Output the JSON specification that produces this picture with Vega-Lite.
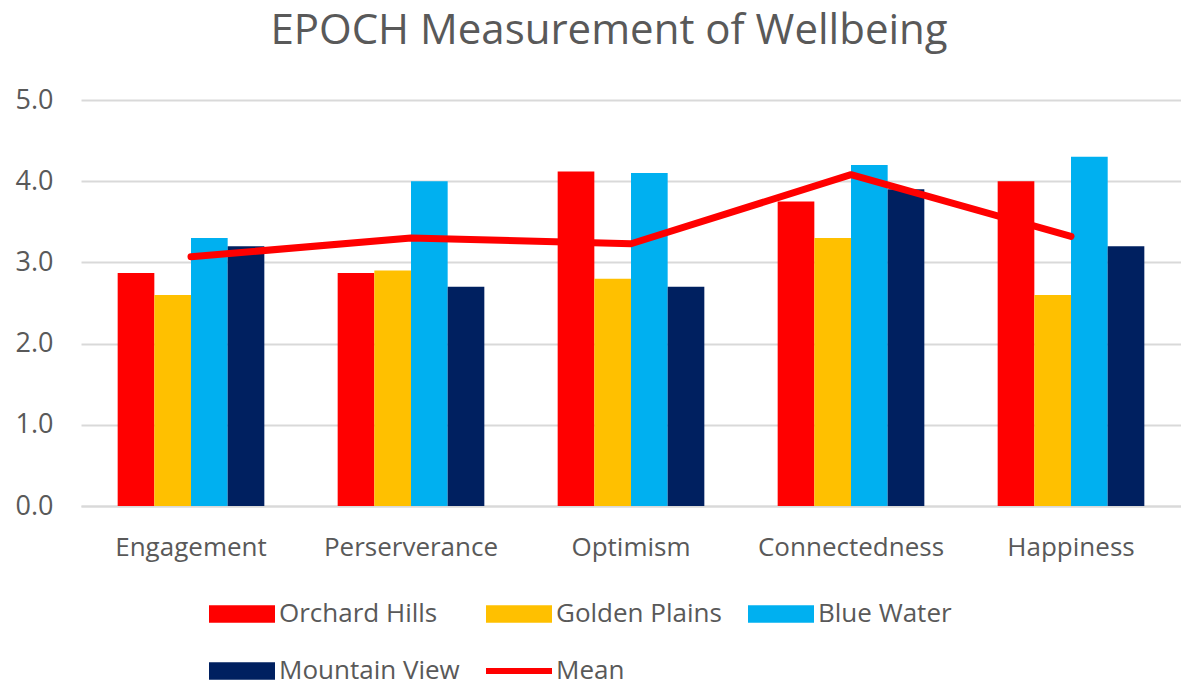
{
  "$schema": "https://vega.github.io/schema/vega-lite/v6.json",
  "width": 1100,
  "height": 406,
  "autosize": {"type": "none"},
  "padding": {"left": 81, "top": 100, "right": 0, "bottom": 180},
  "background": "white",
  "title": {
    "text": "EPOCH Measurement of Wellbeing",
    "font": "Open Sans",
    "fontSize": 42,
    "fontWeight": "normal",
    "color": "#595959",
    "anchor": "middle",
    "frame": "group",
    "dx": -22,
    "baseline": "alphabetic",
    "offset": 0
  },
  "config": {
    "view": {"stroke": null},
    "font": "Open Sans"
  },
  "datasets": {
    "bars": [
      {"category": "Engagement", "series": "Orchard Hills", "value": 2.87},
      {"category": "Engagement", "series": "Golden Plains", "value": 2.6},
      {"category": "Engagement", "series": "Blue Water", "value": 3.3},
      {"category": "Engagement", "series": "Mountain View", "value": 3.2},
      {"category": "Perserverance", "series": "Orchard Hills", "value": 2.87},
      {"category": "Perserverance", "series": "Golden Plains", "value": 2.9},
      {"category": "Perserverance", "series": "Blue Water", "value": 4.0},
      {"category": "Perserverance", "series": "Mountain View", "value": 2.7},
      {"category": "Optimism", "series": "Orchard Hills", "value": 4.12},
      {"category": "Optimism", "series": "Golden Plains", "value": 2.8},
      {"category": "Optimism", "series": "Blue Water", "value": 4.1},
      {"category": "Optimism", "series": "Mountain View", "value": 2.7},
      {"category": "Connectedness", "series": "Orchard Hills", "value": 3.75},
      {"category": "Connectedness", "series": "Golden Plains", "value": 3.3},
      {"category": "Connectedness", "series": "Blue Water", "value": 4.2},
      {"category": "Connectedness", "series": "Mountain View", "value": 3.9},
      {"category": "Happiness", "series": "Orchard Hills", "value": 4.0},
      {"category": "Happiness", "series": "Golden Plains", "value": 2.6},
      {"category": "Happiness", "series": "Blue Water", "value": 4.3},
      {"category": "Happiness", "series": "Mountain View", "value": 3.2}
    ],
    "mean": [
      {"category": "Engagement", "value": 3.07},
      {"category": "Perserverance", "value": 3.3},
      {"category": "Optimism", "value": 3.23},
      {"category": "Connectedness", "value": 4.08},
      {"category": "Happiness", "value": 3.32}
    ]
  },
  "encoding": {
    "x": {
      "field": "category",
      "type": "nominal",
      "sort": ["Engagement", "Perserverance", "Optimism", "Connectedness", "Happiness"],
      "scale": {"paddingInner": 0, "paddingOuter": 0},
      "axis": {
        "title": null,
        "labelAngle": 0,
        "labelFont": "Open Sans",
        "labelFontSize": 26,
        "labelColor": "#595959",
        "labelPadding": 28,
        "labelLimit": 0,
        "ticks": false,
        "domainColor": "#d9d9d9",
        "domainWidth": 2,
        "grid": false
      }
    },
    "y": {
      "field": "value",
      "type": "quantitative",
      "scale": {"domain": [0, 5], "nice": false},
      "axis": {
        "title": null,
        "values": [0, 1, 2, 3, 4, 5],
        "format": ".1f",
        "labelFont": "Open Sans",
        "labelFontSize": 27,
        "labelColor": "#595959",
        "labelPadding": 28,
        "ticks": false,
        "domain": false,
        "gridColor": "#d9d9d9",
        "gridWidth": 2
      }
    }
  },
  "layer": [
    {
      "data": {"name": "bars"},
      "mark": {"type": "bar"},
      "encoding": {
        "xOffset": {
          "field": "series",
          "type": "nominal",
          "sort": ["Orchard Hills", "Golden Plains", "Blue Water", "Mountain View"],
          "scale": {"paddingInner": 0, "paddingOuter": 1.06}
        },
        "color": {
          "field": "series",
          "type": "nominal",
          "scale": {
            "domain": ["Orchard Hills", "Golden Plains", "Blue Water", "Mountain View", "Mean"],
            "range": ["#ff0000", "#ffc000", "#00b0f0", "#002060", "#ff0000"]
          },
          "legend": {
            "title": null,
            "orient": "none",
            "legendX": 148,
            "legendY": 501,
            "direction": "horizontal",
            "columns": 3,
            "symbolSize": 400,
            "labelOffset": 24,
            "columnPadding": 26,
            "rowPadding": 31,
            "labelFont": "Open Sans",
            "labelFontSize": 26,
            "labelColor": "#595959",
            "labelLimit": 0,
            "encode": {
              "symbols": {
                "update": {
                  "shape": {"signal": "datum.value === 'Mean' ? 'M-3.3,-0.3H3.3V0.3H-3.3Z' : 'M-3.3,-0.88H3.3V0.88H-3.3Z'"},
                  "fill": {"signal": "scale('color', datum.value)"},
                  "strokeWidth": {"value": 0},
                  "opacity": {"value": 1}
                }
              }
            }
          }
        }
      }
    },
    {
      "data": {"name": "mean"},
      "mark": {"type": "line", "color": "#ff0000", "strokeWidth": 7, "strokeCap": "round", "strokeJoin": "round"},
      "encoding": {}
    }
  ]
}
